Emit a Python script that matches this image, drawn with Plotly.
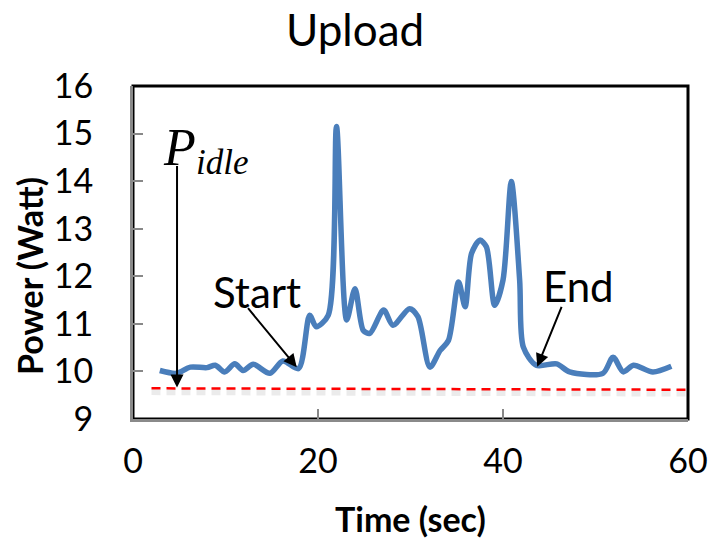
import plotly.graph_objects as go

# ---- data ----
time_s = [2.9, 4.7, 6.2, 8.0, 8.9, 9.9, 11.0, 11.9, 13.0, 14.8, 16.2, 17.9,
          19.1, 19.8, 21.1, 22.0, 23.1, 24.0, 24.9, 25.6, 27.1, 28.1, 29.9,
          30.8, 32.1, 33.2, 34.1, 35.2, 35.9, 36.6, 37.5, 38.2, 39.1, 40.0,
          40.9, 41.8, 42.2, 43.6, 45.8, 47.2, 50.8, 51.9, 53.0, 54.1, 56.2, 58.2]
power_w = [10.02, 9.96, 10.09, 10.08, 10.13, 9.99, 10.16, 10.02, 10.15, 9.96, 10.22, 10.06,
           11.18, 10.94, 11.18, 15.15, 11.08, 11.74, 10.86, 10.80, 11.29, 10.97, 11.32,
           11.15, 10.09, 10.44, 10.65, 11.88, 11.36, 12.48, 12.76, 12.62, 11.39, 11.92,
           13.99, 11.92, 10.51, 10.13, 10.16, 9.99, 9.96, 10.30, 9.99, 10.13, 9.99, 10.11]
idle_x = [2.0, 60.0]
idle_y = [9.645, 9.615]
x_ticks = [0, 20, 40, 60]
y_ticks = [9, 10, 11, 12, 13, 14, 15, 16]

FONT = "Lato"
fig = go.Figure()

# shadow of idle line
fig.add_trace(go.Scatter(x=idle_x, y=[v - 0.08 for v in idle_y], mode="lines",
                         line=dict(color="rgba(0,0,0,0.08)", width=6, dash="9px,6px"),
                         hoverinfo="skip", showlegend=False))
fig.add_trace(go.Scatter(x=idle_x, y=idle_y, mode="lines",
                         line=dict(color="#FF0000", width=2.5, dash="9px,6px"),
                         hoverinfo="skip", showlegend=False))
fig.add_trace(go.Scatter(x=time_s, y=power_w, mode="lines",
                         line=dict(color="#4A7EBB", width=5.5, shape="spline", smoothing=0.8),
                         showlegend=False))

fig.update_layout(
    width=710, height=540,
    margin=dict(l=133, r=22, t=86, b=121, autoexpand=False),
    paper_bgcolor="white", plot_bgcolor="white",
    font=dict(family=FONT, color="black"),
    showlegend=False,
    xaxis=dict(range=[0, 60], tickvals=x_ticks, ticks="inside", ticklen=10, tickwidth=1.5,
               tickcolor="#888888", showgrid=False, zeroline=False, showline=True,
               linecolor="#8a8a8a", linewidth=3, tickfont=dict(size=34, family=FONT),
               ticklabelstandoff=10, automargin=False),
    yaxis=dict(range=[9, 16], tickvals=y_ticks, ticks="inside", ticklen=10, tickwidth=1.5,
               tickcolor="#888888", showgrid=False, zeroline=False, showline=True,
               linecolor="#8a8a8a", linewidth=3, tickfont=dict(size=34, family=FONT),
               ticklabelstandoff=30, automargin=False),
    shapes=[dict(type="rect", xref="paper", yref="paper", x0=0, x1=1, y0=0, y1=1,
                 line=dict(color="black", width=3), layer="below")],
)

ann = []
ann.append(dict(text="Upload", xref="paper", yref="paper", x=(355 - 133) / 555, y=1 + (86 - 29) / 333,
                showarrow=False, font=dict(size=44, family=FONT), xanchor="center", yanchor="middle"))
ann.append(dict(text="<b>Time (sec)</b>", xref="paper", yref="paper", x=0.5, y=-(518 - 419) / 333,
                showarrow=False, font=dict(size=34, family=FONT), xanchor="center", yanchor="middle"))
ann.append(dict(text="<b>Power (Watt)</b>", xref="paper", yref="paper", x=-(133 - 29) / 555,
                y=(419 - 276) / 333, textangle=-90, showarrow=False,
                font=dict(size=34, family=FONT), xanchor="center", yanchor="middle"))
# P_idle
ann.append(dict(text="<i>P</i>", x=5.08, y=14.70, showarrow=False,
                font=dict(size=52, family="Liberation Serif"), xanchor="center", yanchor="middle"))
ann.append(dict(text="<i>idle</i>", x=(222 - 133) / 9.25, y=9 + (418.4 - 163) / 47.4, showarrow=False,
                font=dict(size=35, family="Liberation Serif"), xanchor="center", yanchor="middle"))
ann.append(dict(text="", x=4.76, y=9.66, ax=4.76, ay=14.35, axref="x", ayref="y",
                showarrow=True, arrowhead=2, arrowsize=1.3, arrowwidth=2, arrowcolor="black"))
# Start
ann.append(dict(text="Start", x=13.4, y=11.67, showarrow=False,
                font=dict(size=42, family=FONT), xanchor="center", yanchor="middle"))
ann.append(dict(text="", x=17.7, y=10.09, ax=12.3, ay=11.36, axref="x", ayref="y",
                showarrow=True, arrowhead=2, arrowsize=1.3, arrowwidth=2, arrowcolor="black"))
# End
ann.append(dict(text="End", x=48.2, y=11.8, showarrow=False,
                font=dict(size=42, family=FONT), xanchor="center", yanchor="middle"))
ann.append(dict(text="", x=43.7, y=10.10, ax=46.4, ay=11.39, axref="x", ayref="y",
                showarrow=True, arrowhead=2, arrowsize=1.3, arrowwidth=2, arrowcolor="black"))
fig.update_layout(annotations=ann)

fig.write_html("out.html", config={"displayModeBar": False},
               post_script="document.body.style.margin='0';document.body.style.overflow='hidden';")
